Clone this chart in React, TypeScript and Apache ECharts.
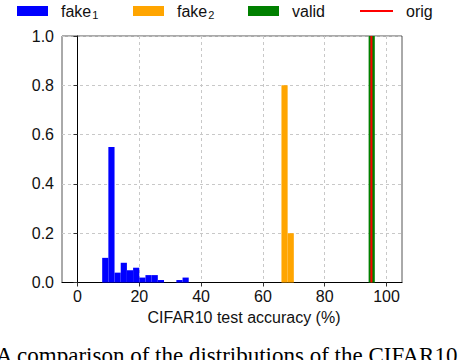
import React, { useEffect, useRef } from 'react';
import * as echarts from 'echarts';

// ---- data ----
const BIN_WIDTH = 2;
const fake1Left = [8, 10, 12, 14, 16, 18, 20, 22, 24, 26, 32, 34];
const fake1Height = [0.1, 0.55, 0.04, 0.08, 0.05, 0.06, 0.02, 0.03, 0.03, 0.01, 0.01, 0.02];
const fake2Left = [66, 68];
const fake2Height = [0.8, 0.2];
const validLeft = [94.2];
const validHeight = [1.0];
const origAccuracy = 95.1;
const xTicks = [0, 20, 40, 60, 80, 100];
const seriesNames = ['fake1', 'fake2', 'valid', 'orig'];
const legendLabels: Record<string, string> = {
  fake1: '{b|fake}{s|1}',
  fake2: '{b|fake}{s|2}',
  valid: '{b|valid}',
  orig: '{b|orig}',
};
const captionText = 'A comparison of the distributions of the CIFAR10';

const FONT = "'Liberation Sans', Arial, sans-serif";

function toBins(left: number[], height: number[]) {
  return left.map((l, i) => [l, l + BIN_WIDTH, height[i]]);
}

function histSeries(name: string, color: string, data: number[][]) {
  return {
    type: 'custom',
    name,
    data,
    encode: { x: [0, 1], y: 2 },
    itemStyle: { color },
    z: 3,
    renderItem: (params: any, api: any) => {
      const x0 = api.value(0);
      const x1 = api.value(1);
      const h = api.value(2);
      const p0 = api.coord([x0, h]);
      const p1 = api.coord([x1, 0]);
      return {
        type: 'rect',
        shape: { x: p0[0], y: p0[1], width: p1[0] - p0[0], height: p1[1] - p0[1] },
        style: { fill: color },
      };
    },
  };
}

export default function App() {
  const ref = useRef<HTMLDivElement>(null);
  useEffect(() => {
    if (!ref.current) return;
    const chart = echarts.init(ref.current, undefined, { renderer: 'svg' });
    const legendLefts = [17, 133, 248, 359];
    const legendBase = (name: string, left: number) => ({
      data: [
        name === 'orig'
          ? { name, itemStyle: { opacity: 0 }, lineStyle: { color: '#ff0000', width: 2 } }
          : { name, icon: 'rect' },
      ],
      left,
      top: 3,
      padding: 0,
      itemWidth: name === 'orig' ? 33 : 31,
      itemHeight: 10,
      formatter: (n: string) => legendLabels[n],
      textStyle: {
        fontFamily: FONT,
        fontSize: 16,
        color: '#111',
        padding: [0, 0, 0, 8],
        rich: {
          b: { fontFamily: FONT, fontSize: 16, color: '#111' },
          s: { fontFamily: FONT, fontSize: 11, color: '#111', verticalAlign: 'bottom', padding: [7, 0, 0, 1] },
        },
      },
    });
    chart.setOption({
      animation: false,
      backgroundColor: '#fff',
      legend: seriesNames.map((n, i) => legendBase(n, legendLefts[i])),
      grid: {
        left: 62,
        right: 58,
        top: 36,
        bottom: 77.5,
        show: true,
        borderColor: '#555',
        borderWidth: 1,
        backgroundColor: '#fff',
      },
      xAxis: {
        type: 'value',
        min: -5,
        max: 105,
        name: 'CIFAR10 test accuracy (%)',
        nameLocation: 'middle',
        nameGap: 25,
        nameTextStyle: { fontFamily: FONT, fontSize: 16, color: '#111', padding: [0, 0, 0, 24] },
        axisLine: { show: true, onZero: false, lineStyle: { color: '#000', width: 1 } },
        axisTick: { show: true, length: 4, customValues: xTicks, lineStyle: { color: '#333' } },
        axisLabel: { customValues: xTicks, fontFamily: FONT, fontSize: 16, color: '#111', margin: 6 },
        splitLine: { show: true, lineStyle: { color: '#c8c8c8', type: [3, 3], width: 1 } },
      },
      yAxis: {
        type: 'value',
        min: 0,
        max: 1,
        interval: 0.2,
        axisLine: { show: true, lineStyle: { color: '#000', width: 1 } },
        axisTick: { show: true, length: 4, lineStyle: { color: '#333' } },
        axisLabel: {
          fontFamily: FONT,
          fontSize: 16,
          color: '#111',
          margin: 8,
          formatter: (v: number) => v.toFixed(1),
        },
        splitLine: { show: true, lineStyle: { color: '#c8c8c8', type: [3, 3], width: 1 } },
      },
      graphic: [
        {
          type: 'text',
          left: -4,
          top: 344,
          style: {
            text: captionText,
            font: "23px 'Liberation Serif', 'Times New Roman', serif",
            fill: '#000',
          },
        },
      ],
      series: [
        histSeries('fake1', '#0000ff', toBins(fake1Left, fake1Height)),
        histSeries('fake2', '#ffa500', toBins(fake2Left, fake2Height)),
        histSeries('valid', '#008000', toBins(validLeft, validHeight)),
        {
          type: 'line',
          name: 'orig',
          data: [
            [origAccuracy, 0],
            [origAccuracy, 1],
          ],
          symbol: 'none',
          showSymbol: false,
          lineStyle: { color: '#ff0000', width: 2 },
          itemStyle: { color: '#ff0000' },
          z: 5,
        },
      ],
    });
    return () => chart.dispose();
  }, []);
  return <div ref={ref} style={{ width: 460, height: 360, position: 'absolute', left: 0, top: 0 }} />;
}
